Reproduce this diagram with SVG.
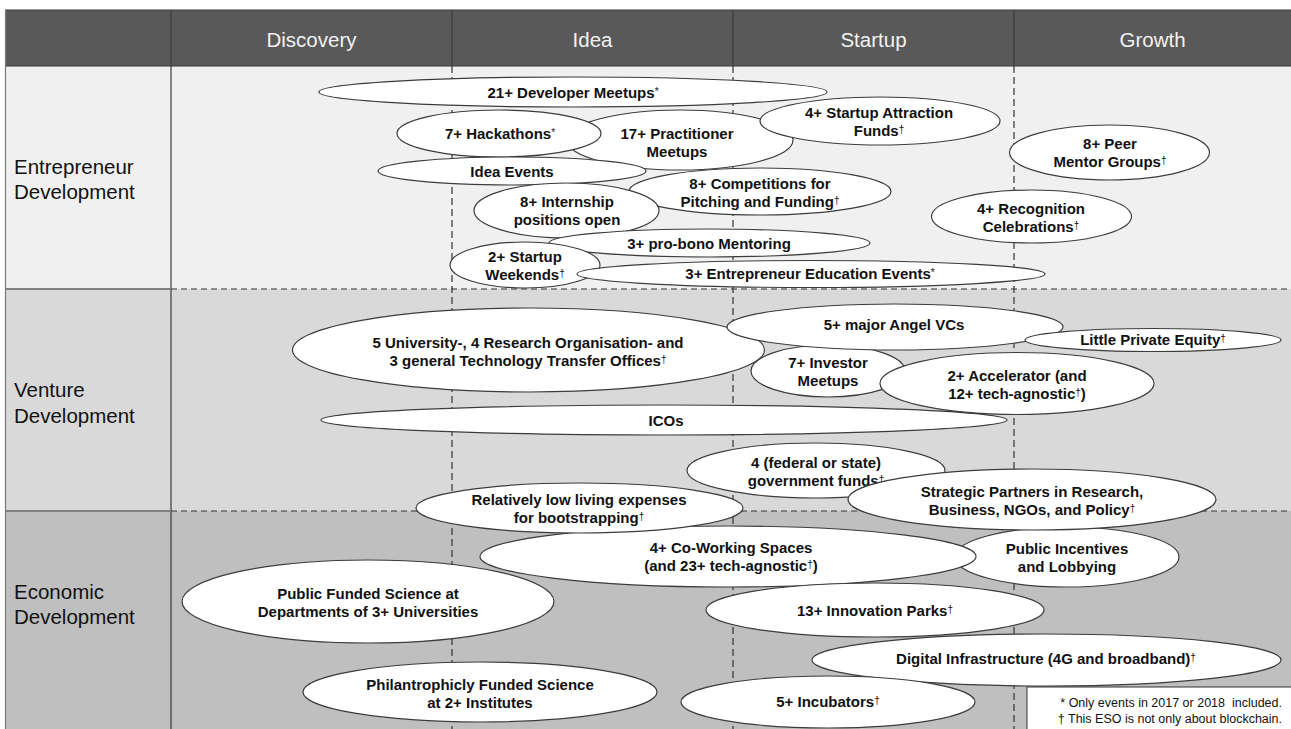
<svg xmlns="http://www.w3.org/2000/svg" width="1291" height="729" viewBox="0 0 1291 729">
<style>
.e{fill:#fff;stroke:#3c3c3c;stroke-width:1.2}
.t{font-family:"Liberation Sans",Arial,sans-serif;font-weight:bold;font-size:15px;fill:#111;text-anchor:middle}
.d{font-size:10px;font-weight:normal;baseline-shift:3px}
.h{font-family:"Liberation Sans",Arial,sans-serif;font-size:20.5px;fill:#f2f2f2;text-anchor:middle}
.r{font-family:"Liberation Sans",Arial,sans-serif;font-size:20.5px;fill:#111}
.dash{stroke:#333;stroke-width:1.2;stroke-dasharray:7 4;fill:none}
.solid{stroke:#3a3a3a;stroke-width:1.2;fill:none}
.leg{font-family:"Liberation Sans",Arial,sans-serif;font-size:12.5px;fill:#111;text-anchor:end;white-space:pre}
</style>
<g id="background">
<rect x="5" y="10" width="1286" height="56" fill="#595959"/>
<rect x="5" y="66" width="1286" height="223" fill="#f0f0f0"/>
<rect x="5" y="289" width="1286" height="222" fill="#d9d9d9"/>
<rect x="5" y="511" width="1286" height="218" fill="#bfbfbf"/>
</g>
<g id="grid">
<line class="solid" x1="5" y1="10" x2="1291" y2="10"/>
<line class="solid" x1="5" y1="66" x2="1291" y2="66"/>
<line x1="5.5" y1="10" x2="5.5" y2="729" stroke="#7a7a7a" stroke-width="1.2"/>
<line class="solid" x1="171" y1="10" x2="171" y2="729"/>
<line class="solid" x1="452" y1="10" x2="452" y2="66"/>
<line class="solid" x1="733" y1="10" x2="733" y2="66"/>
<line class="solid" x1="1014" y1="10" x2="1014" y2="66"/>
<line class="dash" x1="452" y1="66" x2="452" y2="729"/>
<line class="dash" x1="733" y1="66" x2="733" y2="729"/>
<line class="dash" x1="1014" y1="66" x2="1014" y2="729"/>
<line x1="5" y1="289" x2="171" y2="289" stroke="#808080" stroke-width="2"/>
<line x1="5" y1="511" x2="171" y2="511" stroke="#808080" stroke-width="2"/>
<line class="dash" x1="171" y1="289" x2="1291" y2="289" style="stroke-dasharray:6 4"/>
<line class="dash" x1="171" y1="511" x2="1291" y2="511" style="stroke-dasharray:6 4"/>
</g>
<g id="headers">
<text class="h" x="311.5" y="47">Discovery</text>
<text class="h" x="592.5" y="47">Idea</text>
<text class="h" x="873.5" y="47">Startup</text>
<text class="h" x="1152.5" y="47">Growth</text>
</g>
<g id="row-labels">
<text class="r" x="14" y="174">Entrepreneur</text>
<text class="r" x="14" y="199">Development</text>
<text class="r" x="14" y="397">Venture</text>
<text class="r" x="14" y="423">Development</text>
<text class="r" x="14" y="599">Economic</text>
<text class="r" x="14" y="624">Development</text>
</g>
<g id="connectors"></g>
<g id="dev-meetups"><ellipse class="e" cx="573" cy="92" rx="254" ry="15"/><text class="t" x="573" y="97.5">21+ Developer Meetups<tspan class="d">*</tspan></text></g>
<g id="practitioner"><ellipse class="e" cx="680" cy="140" rx="113" ry="30"/><text class="t" x="677" y="138.5">17+ Practitioner</text><text class="t" x="677" y="156.5">Meetups</text></g>
<g id="hackathons"><ellipse class="e" cx="499" cy="133.5" rx="102" ry="23.5"/><text class="t" x="500" y="138.5">7+ Hackathons<tspan class="d">*</tspan></text></g>
<g id="attraction"><ellipse class="e" cx="880" cy="121" rx="120" ry="24"/><text class="t" x="879" y="117.5">4+  Startup Attraction</text><text class="t" x="879" y="135.5">Funds<tspan class="d">†</tspan></text></g>
<g id="idea-events"><ellipse class="e" cx="512" cy="171" rx="134" ry="14"/><text class="t" x="512" y="176.5">Idea Events</text></g>
<g id="competitions"><ellipse class="e" cx="760" cy="191.5" rx="131" ry="23.5"/><text class="t" x="760" y="188.5">8+ Competitions for</text><text class="t" x="760" y="206.5">Pitching and Funding<tspan class="d">†</tspan></text></g>
<g id="internship"><ellipse class="e" cx="566.5" cy="210.5" rx="92.5" ry="27.5"/><text class="t" x="567" y="206.5">8+ Internship</text><text class="t" x="567" y="224.5">positions open</text></g>
<g id="mentoring"><ellipse class="e" cx="709.5" cy="243" rx="160.5" ry="14"/><text class="t" x="709" y="248.5">3+ pro-bono Mentoring</text></g>
<g id="weekends"><ellipse class="e" cx="525" cy="265" rx="75" ry="23"/><text class="t" x="525" y="261.5">2+ Startup</text><text class="t" x="525" y="279.5">Weekends<tspan class="d">†</tspan></text></g>
<g id="education"><ellipse class="e" cx="811" cy="274" rx="234" ry="13.5"/><text class="t" x="810" y="278.5">3+ Entrepreneur Education Events<tspan class="d">*</tspan></text></g>
<g id="peer-mentor"><ellipse class="e" cx="1109.5" cy="152.5" rx="100" ry="27.5"/><text class="t" x="1110" y="148.5">8+ Peer</text><text class="t" x="1110" y="166.5">Mentor Groups<tspan class="d">†</tspan></text></g>
<g id="recognition"><ellipse class="e" cx="1031.5" cy="216.5" rx="100" ry="26.5"/><text class="t" x="1031" y="213.5">4+ Recognition</text><text class="t" x="1031" y="231.5">Celebrations<tspan class="d">†</tspan></text></g>
<g id="tto"><ellipse class="e" cx="528.5" cy="350" rx="236" ry="42"/><text class="t" x="528" y="347.5">5 University-, 4 Research Organisation- and</text><text class="t" x="528" y="365.5">3 general Technology Transfer Offices<tspan class="d">†</tspan></text></g>
<g id="investor"><ellipse class="e" cx="828" cy="371" rx="77" ry="26"/><text class="t" x="828" y="367.5">7+ Investor</text><text class="t" x="828" y="385.5">Meetups</text></g>
<g id="angel"><ellipse class="e" cx="895" cy="327" rx="168" ry="23"/><text class="t" x="894" y="329.5">5+ major Angel VCs</text></g>
<g id="accelerator"><ellipse class="e" cx="1017" cy="383.5" rx="137" ry="31"/><text class="t" x="1017" y="380.5">2+ Accelerator (and</text><text class="t" x="1017" y="398.5">12+ tech-agnostic<tspan class="d">†</tspan>)</text></g>
<g id="private-equity"><ellipse class="e" cx="1153" cy="340" rx="128" ry="11.5"/><text class="t" x="1153" y="345">Little Private Equity<tspan class="d">†</tspan></text></g>
<g id="icos"><ellipse class="e" cx="664" cy="420" rx="343" ry="15"/><text class="t" x="666" y="425.5">ICOs</text></g>
<g id="gov-funds"><ellipse class="e" cx="816" cy="470.5" rx="129" ry="27.5"/><text class="t" x="816" y="467.5">4 (federal or state)</text><text class="t" x="816" y="485.5">government funds<tspan class="d">†</tspan></text></g>
<g id="public-incentives"><ellipse class="e" cx="1067" cy="557" rx="112" ry="30"/><text class="t" x="1067" y="553.5">Public Incentives</text><text class="t" x="1067" y="571.5">and Lobbying</text></g>
<g id="coworking"><ellipse class="e" cx="728" cy="556.5" rx="248" ry="30.5"/><text class="t" x="731" y="552.5">4+ Co-Working Spaces</text><text class="t" x="731" y="570.5">(and 23+ tech-agnostic<tspan class="d">†</tspan>)</text></g>
<g id="strategic"><ellipse class="e" cx="1032" cy="499.5" rx="184" ry="30.5"/><text class="t" x="1032" y="496.5">Strategic Partners in Research,</text><text class="t" x="1032" y="514.5">Business, NGOs, and Policy<tspan class="d">†</tspan></text></g>
<g id="living-expenses"><ellipse class="e" cx="579.5" cy="508" rx="163.5" ry="25"/><text class="t" x="579" y="504.5">Relatively low living expenses</text><text class="t" x="579" y="522.5">for bootstrapping<tspan class="d">†</tspan></text></g>
<g id="public-science"><ellipse class="e" cx="368" cy="601.5" rx="186" ry="41.5"/><text class="t" x="368" y="598.5">Public Funded Science at</text><text class="t" x="368" y="616.5">Departments of 3+ Universities</text></g>
<g id="innovation-parks"><ellipse class="e" cx="875" cy="610" rx="169" ry="27"/><text class="t" x="875" y="615.5">13+ Innovation Parks<tspan class="d">†</tspan></text></g>
<g id="digital"><ellipse class="e" cx="1046.5" cy="660" rx="234.5" ry="26"/><text class="t" x="1046" y="663.5">Digital Infrastructure (4G and broadband)<tspan class="d">†</tspan></text></g>
<g id="philanthropic"><ellipse class="e" cx="480" cy="692" rx="177" ry="30"/><text class="t" x="480" y="689.5">Philantrophicly Funded Science</text><text class="t" x="480" y="707.5">at 2+ Institutes</text></g>
<g id="incubators"><ellipse class="e" cx="828" cy="702" rx="147" ry="26"/><text class="t" x="828" y="706.5">5+ Incubators<tspan class="d">†</tspan></text></g>
<g id="legend">
<rect x="1027" y="687" width="270" height="50" fill="#fff" stroke="#333" stroke-width="1"/>
<text class="leg" x="1282" y="707">* Only events in 2017 or 2018  included.</text>
<text class="leg" x="1282" y="723">† This ESO is not only about blockchain.</text>
</g>
</svg>
